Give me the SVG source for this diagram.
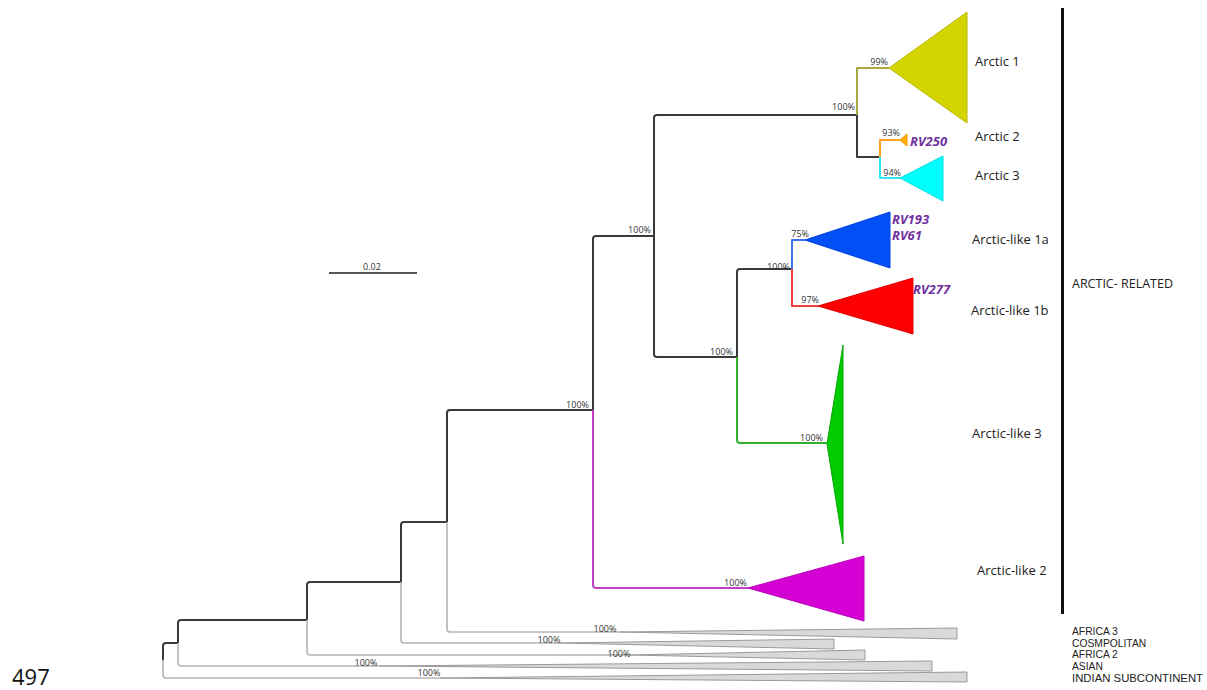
<svg xmlns="http://www.w3.org/2000/svg" width="1207" height="690" viewBox="0 0 1207 690">
<style>
.br{fill:none;stroke-width:2;stroke-linejoin:round;stroke-linecap:butt}
.k{stroke:#3a3a3a}
.g{stroke:#b4b4b4;stroke-width:1.6}
.sup{font-family:"Open Sans","Liberation Sans",sans-serif;font-size:9px;fill:#333;text-anchor:end}
.supc{font-family:"Open Sans","Liberation Sans",sans-serif;font-size:9px;fill:#333;text-anchor:middle}
.lab{font-family:"Open Sans","Liberation Sans",sans-serif;font-size:13px;fill:#222}
.rv{font-family:"Open Sans","Liberation Sans",sans-serif;font-size:13px;font-weight:bold;font-style:italic;fill:#7030a0}
.sm{font-family:"Liberation Sans",Arial,sans-serif;font-size:10.3px;fill:#222}
.gw{fill:#d9d9d9;stroke:#9a9a9a;stroke-width:1}
</style>
<rect width="1207" height="690" fill="#fff"/>
<g id="connectors">
<path class="br k" d="M163 660 V646 Q163 643 166 643 H178"/>
<path class="br g" d="M163 660 V675 Q163 678 166 678 H440"/>
<path class="br k" d="M178 643 V623 Q178 620 181 620 H307"/>
<path class="br g" d="M178 643 V663 Q178 666 181 666 H380"/>
<path class="br k" d="M307 620 V585 Q307 582 310 582 H401"/>
<path class="br g" d="M307 620 V652 Q307 655 310 655 H630"/>
<path class="br k" d="M401 582 V525 Q401 522 404 522 H447"/>
<path class="br g" d="M401 582 V640 Q401 643 404 643 H560"/>
<path class="br k" d="M447 522 V413 Q447 410 450 410 H593"/>
<path class="br g" d="M447 522 V629 Q447 632 450 632 H620"/>
<path class="br k" d="M593 410 V239 Q593 236 596 236 H654"/>
<path class="br" stroke="#c040c0" stroke-width="1.6" d="M593 410 V585 Q593 588 596 588 H748"/>
<path class="br k" d="M654 236 V118 Q654 115 657 115 H857"/>
<path class="br k" d="M654 236 V354 Q654 357 657 357 H737"/>
<path class="br" stroke="#a8a840" stroke-width="1.6" d="M857 115 V68 H889"/>
<path class="br k" d="M857 115 V157 H880"/>
<path class="br" stroke="#ffa020" stroke-width="1.6" d="M880 157 V140 H900"/>
<path class="br" stroke="#30e8f0" stroke-width="1.6" d="M880 157 V178 H900"/>
<path class="br k" d="M737 357 V272 Q737 269 740 269 H792"/>
<path class="br" stroke="#30b030" stroke-width="1.6" d="M737 357 V440 Q737 443 740 443 H827"/>
<path class="br" stroke="#4070f0" stroke-width="1.6" d="M792 269 V240 H805"/>
<path class="br" stroke="#f04040" stroke-width="1.6" d="M792 269 V306 H818"/>
</g>
<g id="scale">
<line x1="329" y1="273" x2="417" y2="273" stroke="#555" stroke-width="2"/>
<text class="supc" x="372" y="270">0.02</text>
</g>
<g id="arctic1">
<polygon points="889,68 967,12 967,123" fill="#d4d400" stroke="#b8b800" stroke-width="1"/>
<text class="sup" x="888" y="65">99%</text>
<text class="lab" x="975" y="66">Arctic 1</text>
</g>
<g id="node-arctic">
<text class="sup" x="855" y="110">100%</text>
</g>
<g id="arctic2">
<polygon points="900,140 907,134 907,146" fill="#ffb000" stroke="#ff9900" stroke-width="1"/>
<text class="sup" x="900" y="136">93%</text>
<text class="rv" x="910" y="146">RV250</text>
<text class="lab" x="975" y="141">Arctic 2</text>
</g>
<g id="arctic3">
<polygon points="900,178 943,156 943,201" fill="#00ffff" stroke="#00e0e0" stroke-width="1"/>
<text class="sup" x="901" y="176">94%</text>
<text class="lab" x="975" y="180">Arctic 3</text>
</g>
<g id="arcticlike1a">
<polygon points="805,240 890,212 890,268" fill="#0050f5" stroke="#0040e0" stroke-width="1"/>
<text class="sup" x="809" y="237">75%</text>
<text class="rv" x="892" y="224">RV193</text>
<text class="rv" x="892" y="240">RV61</text>
<text class="lab" x="972" y="244">Arctic-like 1a</text>
</g>
<g id="node-arcticlike1">
<text class="sup" x="790" y="270">100%</text>
</g>
<g id="arcticlike1b">
<polygon points="818,306 913,278 913,334" fill="#ff0000" stroke="#e00000" stroke-width="1"/>
<text class="sup" x="819" y="303">97%</text>
<text class="rv" x="913" y="294">RV277</text>
<text class="lab" x="971" y="315">Arctic-like 1b</text>
</g>
<g id="node-arcticlike">
<text class="sup" x="733" y="355">100%</text>
</g>
<g id="node-arcticmain">
<text class="sup" x="651" y="233">100%</text>
</g>
<g id="arcticlike3">
<polygon points="827,444 843,345 843,544" fill="#00cc00" stroke="#00a800" stroke-width="1"/>
<text class="sup" x="823" y="441">100%</text>
<text class="lab" x="972" y="438">Arctic-like 3</text>
</g>
<g id="node-related">
<text class="sup" x="589" y="408">100%</text>
</g>
<g id="arcticlike2">
<polygon points="748,588 864,556 864,621" fill="#d400d4" stroke="#b800b8" stroke-width="1"/>
<text class="sup" x="747" y="586">100%</text>
<text class="lab" x="977" y="575">Arctic-like 2</text>
</g>
<g id="arctic-related">
<rect x="1061" y="8" width="3" height="606" fill="#111"/>
<text class="lab" x="1072" y="288" style="font-size:12.5px">ARCTIC- RELATED</text>
</g>
<g id="africa3">
<polygon class="gw" points="620,632 957,628 957,639"/>
<text class="supc" x="605" y="632">100%</text>
<text class="sm" x="1072" y="635">AFRICA 3</text>
</g>
<g id="cosmopolitan">
<polygon class="gw" points="560,643 834,639 834,649"/>
<text class="supc" x="549" y="643">100%</text>
<text class="sm" x="1072" y="647">COSMPOLITAN</text>
</g>
<g id="africa2">
<polygon class="gw" points="630,655 865,650 865,660"/>
<text class="supc" x="619" y="657">100%</text>
<text class="sm" x="1072" y="658">AFRICA 2</text>
</g>
<g id="asian">
<polygon class="gw" points="380,666 932,661 932,671"/>
<text class="supc" x="366" y="666">100%</text>
<text class="sm" x="1072" y="670">ASIAN</text>
</g>
<g id="indian">
<polygon class="gw" points="440,678 967,672 967,682"/>
<text class="supc" x="429" y="676">100%</text>
<text class="sm" x="1072" y="682" textLength="131" lengthAdjust="spacingAndGlyphs">INDIAN SUBCONTINENT</text>
</g>
<text x="12" y="685" font-family="Open Sans, Liberation Sans, sans-serif" font-size="22" fill="#111">497</text>
</svg>
